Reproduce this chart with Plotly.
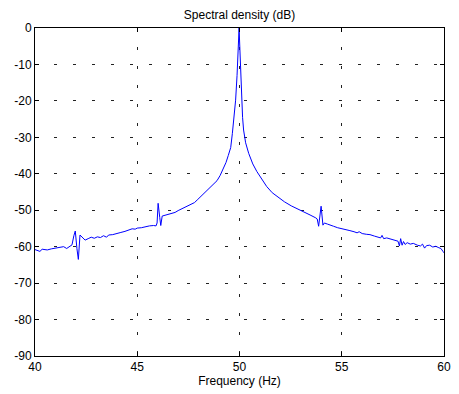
import plotly.graph_objects as go

freq_hz = [
    40.0, 40.1, 40.24, 40.35, 40.45, 40.6, 40.8, 41.0, 41.2, 41.4, 41.55, 41.7, 41.81,
    41.9, 41.97, 42.05, 42.12, 42.2, 42.3, 42.45, 42.6, 42.75, 42.9, 43.05, 43.2,
    43.35, 43.5, 43.6, 43.8, 44.0, 44.2, 44.4, 44.6, 44.75, 44.9, 45.0, 45.2, 45.4,
    45.6, 45.8, 45.92, 45.97, 46.02, 46.1, 46.15, 46.22, 46.35, 46.5, 46.7, 46.85,
    47.0, 47.2, 47.4, 47.6, 47.8, 47.93, 48.1, 48.3, 48.5, 48.7, 48.9, 49.05, 49.2, 49.34,
    49.45, 49.57, 49.65, 49.73, 49.81, 49.88, 49.93, 49.98, 50.02, 50.06, 50.1,
    50.15, 50.2, 50.3, 50.45, 50.65, 50.85, 51.05, 51.33, 51.6, 51.97, 52.2, 52.53,
    52.8, 53.17, 53.45, 53.73, 53.8, 53.87, 53.99, 54.08, 54.15, 54.3, 54.45, 54.6,
    54.8, 55.0, 55.2, 55.4, 55.6, 55.75, 55.85, 56.0, 56.2, 56.38, 56.6, 56.8, 56.9,
    56.97, 57.05, 57.2, 57.4, 57.6, 57.75, 57.82, 57.88, 57.95, 58.02, 58.1, 58.2,
    58.35, 58.5, 58.7, 58.85, 58.95, 59.05, 59.15, 59.3, 59.45, 59.6, 59.75, 59.85,
    59.95, 60.0,
]
density_db = [
    -60.8, -61.0, -61.3, -60.7, -60.8, -60.9, -60.6, -60.4, -60.1, -60.0, -60.5, -60.0, -59.5,
    -57.0, -55.7, -60.5, -63.5, -56.8, -57.3, -58.2, -57.8, -57.4, -57.7, -57.3, -57.5,
    -57.0, -57.4, -56.8, -56.7, -56.5, -56.1, -55.8, -55.5, -55.1, -55.2, -54.9, -54.8, -54.5,
    -54.3, -54.2, -54.3, -53.5, -48.1, -52.0, -54.2, -51.6, -51.4, -51.1, -50.8, -50.6,
    -50.1, -49.6, -49.1, -48.5, -47.9, -47.2, -46.3, -45.2, -44.2, -43.1, -41.9, -40.5, -38.8, -36.9,
    -35.0, -32.8, -29.0, -24.5, -19.8, -13.0, -7.0, 0.0, -6.0, -12.0, -19.8,
    -24.5, -28.0, -31.5, -34.4, -37.3, -39.4, -41.2, -43.5, -45.2, -46.9, -47.7, -48.8,
    -49.6, -50.6, -51.3, -52.1, -52.4, -54.4, -48.9, -54.1, -53.5, -53.8, -54.2, -54.4,
    -54.8, -55.0, -55.3, -55.6, -55.9, -56.2, -55.9, -56.4, -56.6, -56.7, -57.1, -57.4, -57.6,
    -56.9, -57.8, -57.6, -58.0, -58.3, -58.5, -59.8, -57.8, -59.6, -58.6, -59.4, -58.9,
    -59.3, -59.1, -59.6, -59.8, -59.3, -60.4, -59.7, -59.6, -60.1, -59.9, -60.3, -60.5,
    -61.3, -61.7,
]

x_ticks = [40, 45, 50, 55, 60]
y_ticks = [0, -10, -20, -30, -40, -50, -60, -70, -80, -90]

FONT = "Liberation Sans, Arial, sans-serif"

fig = go.Figure()
fig.add_trace(go.Scatter(
    x=freq_hz, y=density_db, mode="lines",
    line=dict(color="#0000ff", width=1),
    hoverinfo="skip", showlegend=False,
))

axis_common = dict(
    showline=True, linecolor="black", linewidth=1, mirror="ticks",
    ticks="inside", ticklen=4, tickcolor="black",
    showgrid=True, gridcolor="#222222", gridwidth=1, griddash="3px,16px",
    zeroline=False,
    tickfont=dict(family=FONT, size=12, color="black"),
)

fig.update_xaxes(
    range=[40, 60], tickvals=x_ticks, ticktext=[str(v) for v in x_ticks],
    title=dict(text="Frequency (Hz)", font=dict(family=FONT, size=12, color="black"), standoff=3),
    **axis_common,
)
fig.update_yaxes(
    range=[-90, 0], tickvals=y_ticks, ticktext=[str(v) for v in y_ticks],
    **axis_common,
)

fig.update_layout(
    width=459, height=394,
    margin=dict(l=35, r=8, t=28, b=38),
    paper_bgcolor="white", plot_bgcolor="white",
    title=dict(text="Spectral density (dB)", font=dict(family=FONT, size=12, color="black"),
               x=0.5, xref="paper", xanchor="center",
               y=1 - 15 / 394, yref="container", yanchor="middle"),
    font=dict(family=FONT, size=12, color="black"),
)

fig.write_html("out.html")
